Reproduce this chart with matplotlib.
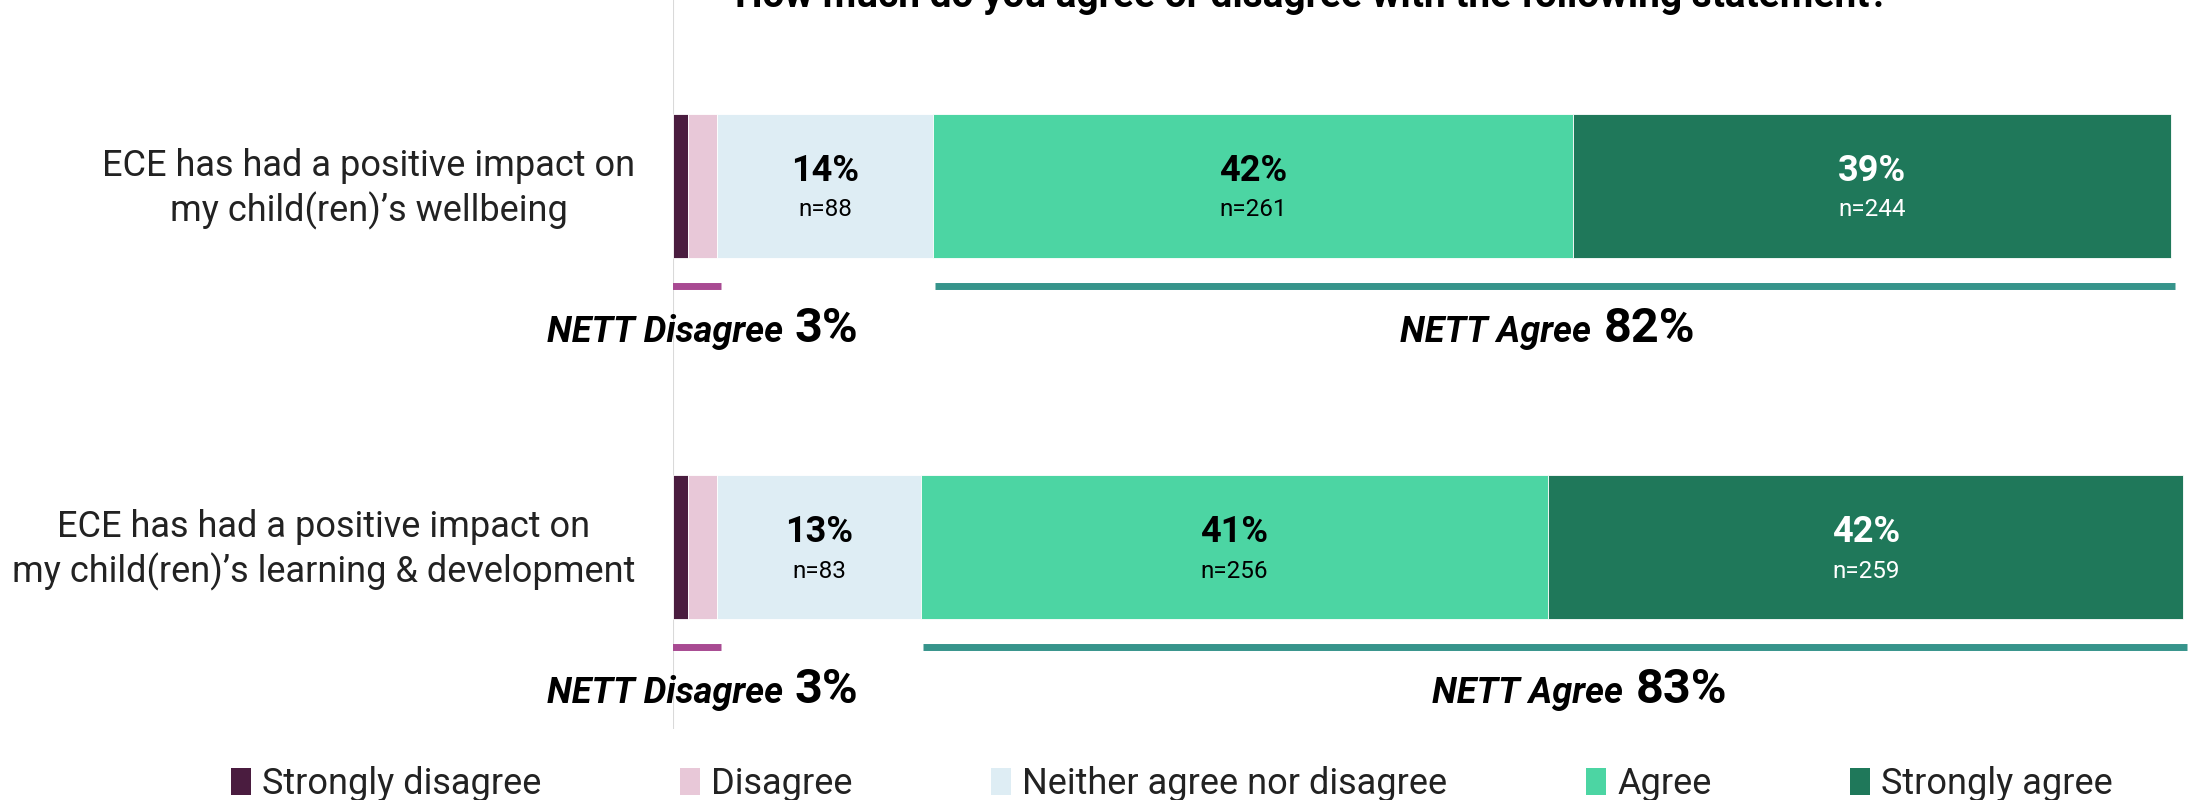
import matplotlib
matplotlib.use("Agg")
import matplotlib.pyplot as plt
from matplotlib.patches import Patch

# ---------------- data ----------------
title = "How much do you agree or disagree with the following statement?"
categories = ["ECE has had a positive impact on\nmy child(ren)\u2019s wellbeing",
              "ECE has had a positive impact on\nmy child(ren)\u2019s learning & development"]
series_names = ["Strongly disagree", "Disagree", "Neither agree nor disagree", "Agree", "Strongly agree"]
strongly_disagree_n = [6, 6]
disagree_n = [12, 12]
neither_n = [88, 83]
agree_n = [261, 256]
strongly_agree_n = [244, 259]
neither_pct = [14, 13]
agree_pct = [42, 41]
strongly_agree_pct = [39, 42]
nett_disagree_pct = [3, 3]
nett_agree_pct = [82, 83]

colors = ["#4a1c3f", "#e8c8d8", "#deedf4", "#4cd5a3", "#1f785a"]
nett_dis_color = "#a84a92"
nett_agr_color = "#36948b"
FONT = "Roboto"
plt.rcParams['font.family'] = [FONT, 'DejaVu Sans']

W, H = 2198, 800
fig = plt.figure(figsize=(W / 100, H / 100), dpi=100)
x0_px = 673
px_per_unit = 2.452
ax = fig.add_axes([x0_px / W, 0, 1 - x0_px / W, 1])
ax.set_xlim(0, (W - x0_px) / px_per_unit)
row_px = 361.0
top_c = 186.0
ax.set_ylim((H - top_c) / row_px, -top_c / row_px)
ax.axis("off")

series = [strongly_disagree_n, disagree_n, neither_n, agree_n, strongly_agree_n]
ys = list(range(len(categories)))
bar_h = 144 / row_px
lefts = [0.0] * len(categories)
bounds = []
for s, c in zip(series, colors):
    ax.barh(ys, s, left=lefts, height=bar_h, color=c, edgecolor="white", linewidth=0.6)
    bounds.append(list(lefts))
    lefts = [l + v for l, v in zip(lefts, s)]
bounds.append(list(lefts))

# axis line
ax.vlines(0, -top_c / row_px, (729 - top_c) / row_px, color="#d9d9d9", lw=1.5, zorder=0)

pct_sets = [None, None, neither_pct, agree_pct, strongly_agree_pct]
for si, pcts in enumerate(pct_sets):
    if pcts is None:
        continue
    tc = "white" if si == 4 else "black"
    for i in ys:
        cx = (bounds[si][i] + bounds[si + 1][i]) / 2
        ax.text(cx, i - 15 / row_px, f"{pcts[i]}%", ha="center", va="center",
                fontsize=26, fontweight="bold", color=tc)
        ax.text(cx, i + 24 / row_px, f"n={series[si][i]}", ha="center", va="center",
                fontsize=17.5, color=tc)

fig.canvas.draw()
renderer = fig.canvas.get_renderer()

# category labels (lines centred, block right-aligned)
for i, cat in enumerate(categories):
    fig.text(635 / W, 1 - (top_c + 3 + i * row_px) / H, cat, ha="right", va="center",
             multialignment="center", fontsize=26, color="#222222", linespacing=1.25)

def composite(xc, y, label, value):
    t1 = ax.text(0, y, label, ha="left", va="baseline", fontsize=26,
                 fontweight="bold", fontstyle="italic", color="black")
    t2 = ax.text(0, y, f"{value}%", ha="left", va="baseline", fontsize=35,
                 fontweight="bold", color="black")
    w1 = t1.get_window_extent(renderer).width
    w2 = t2.get_window_extent(renderer).width
    gap = 12
    total = w1 + gap + w2
    xc_px = ax.transData.transform((xc, 0))[0]
    start = xc_px - total / 2
    inv = ax.transData.inverted()
    t1.set_x(inv.transform((start, 0))[0])
    t2.set_x(inv.transform((start + w1 + gap, 0))[0])

line_dy = 100 / row_px
text_dy = 156 / row_px
agree_nudge = [-3, 10]  # layout nudges (data units)
for i in ys:
    # disagree
    x_a, x_b = -1.2, bounds[2][i] + 1.5
    ax.plot([x_a, x_b], [i + line_dy] * 2, color=nett_dis_color, lw=5, solid_capstyle="butt")
    composite((x_a + x_b) / 2 + 3, i + text_dy, "NETT Disagree", nett_disagree_pct[i])
    # agree
    x_a, x_b = bounds[3][i] + 1, bounds[5][i] + 1.5
    ax.plot([x_a, x_b], [i + line_dy] * 2, color=nett_agr_color, lw=5, solid_capstyle="butt")
    composite((x_a + x_b) / 2 + agree_nudge[i], i + text_dy, "NETT Agree", nett_agree_pct[i])

# title (cut at top)
fig.text(1312 / W, 1 - 7 / H, title, ha="center", va="baseline", fontsize=28,
         fontweight="bold", color="black")

handles = [Patch(facecolor=c, edgecolor="none") for c in colors]
fig.legend(handles, series_names, loc="center", bbox_to_anchor=(1172 / W, 1 - 784 / H),
           ncol=5, frameon=False, fontsize=26, handlelength=0.55, handleheight=0.8,
           handletextpad=0.3, columnspacing=3.85, labelcolor="#222222")

fig.savefig("out.png", dpi=100)
